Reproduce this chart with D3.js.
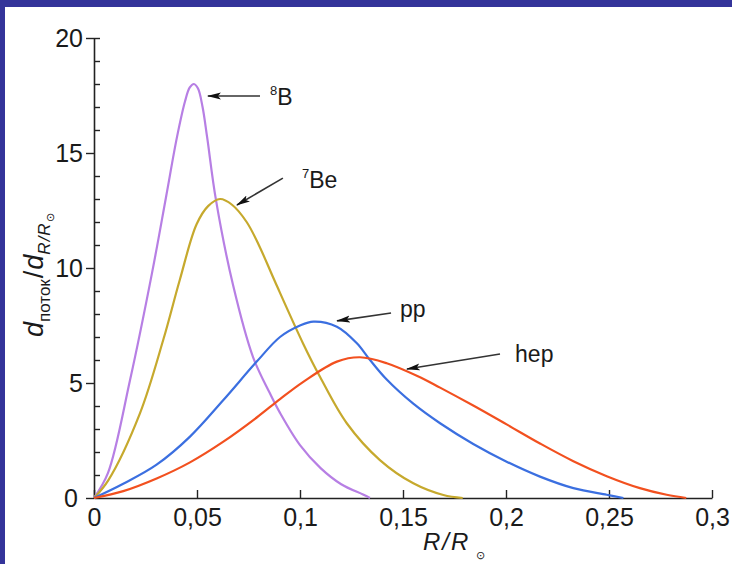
<!DOCTYPE html>
<html>
<head>
<meta charset="utf-8">
<script src="https://cdn.jsdelivr.net/npm/d3@7/dist/d3.min.js"></script>
<style>
  html, body { margin: 0; padding: 0; background: #fff; }
  svg { display: block; font-family: "Liberation Sans", Arial, Helvetica, sans-serif; }
</style>
</head>
<body>
<svg id="chart" width="732" height="564"></svg>
<script>
// values (x = R/R_sun, y = d flux / d R)
const b8X  = [0, 0.0068, 0.0175, 0.0282, 0.035, 0.0403, 0.0442, 0.0465, 0.0485, 0.0505, 0.0527, 0.0549, 0.0592, 0.0675, 0.0772, 0.0854, 0.0903, 0.1, 0.11, 0.12, 0.1306, 0.134];
const b8Y  = [0, 1.09, 5.13, 9.8, 13.1, 15.7, 17.25, 17.85, 18.0, 17.8, 17.0, 15.7, 12.96, 9.26, 6.13, 4.55, 3.7, 2.3, 1.3, 0.6, 0.15, 0];
const be7X = [0, 0.007, 0.0223, 0.0337, 0.0417, 0.0498, 0.0555, 0.0612, 0.067, 0.0741, 0.08, 0.0879, 0.1016, 0.1097, 0.1227, 0.1388, 0.155, 0.1696, 0.179];
const be7Y = [0, 0.78, 3.68, 6.9, 9.5, 11.9, 12.7, 13.0, 12.75, 12.0, 11.0, 9.4, 6.7, 5.27, 3.25, 1.65, 0.64, 0.13, 0];
const ppX  = [0, 0.0142, 0.0304, 0.0466, 0.0628, 0.079, 0.0903, 0.1, 0.1065, 0.1179, 0.1276, 0.134, 0.1421, 0.155, 0.168, 0.1841, 0.2003, 0.2165, 0.2327, 0.2489, 0.257];
const ppY  = [0, 0.62, 1.45, 2.67, 4.26, 5.93, 7.0, 7.5, 7.67, 7.45, 6.73, 6.0, 5.15, 4.1, 3.25, 2.35, 1.58, 0.93, 0.43, 0.14, 0];
const hepX = [0, 0.0142, 0.0304, 0.0466, 0.0628, 0.079, 0.0903, 0.1016, 0.1179, 0.1291, 0.1421, 0.1583, 0.168, 0.1841, 0.2003, 0.2165, 0.2327, 0.2489, 0.265, 0.278, 0.2875];
const hepY = [0, 0.3, 0.85, 1.55, 2.45, 3.5, 4.3, 5.05, 5.93, 6.12, 5.86, 5.25, 4.8, 4.02, 3.2, 2.37, 1.6, 0.95, 0.43, 0.14, 0];

const xTicks = [0, 0.05, 0.1, 0.15, 0.2, 0.25, 0.3];
const xTickLabels = ["0", "0,05", "0,1", "0,15", "0,2", "0,25", "0,3"];
const yTicks = [0, 5, 10, 15, 20];
const yMinorTicks = [1, 2, 3, 4, 6, 7, 8, 9, 11, 12, 13, 14, 16, 17, 18, 19, 20];

// annotation: label, superscript, text anchor, arrow start, arrow tip (data units)
const noteNames = ["B", "Be", "pp", "hep"];
const noteSups  = ["8", "7", "", ""];
const noteText  = [[0.0854, 17.09], [0.101, 13.48], [0.1485, 7.87], [0.2044, 5.91]];
const noteFrom  = [[0.0806, 17.48], [0.0917, 13.91], [0.1442, 8.04], [0.1971, 6.26]];
const noteTo    = [[0.0553, 17.48], [0.0694, 12.74], [0.118, 7.7], [0.1519, 5.61]];

const series = [
  { xs: b8X,  ys: b8Y,  color: "#b77fe4" },
  { xs: be7X, ys: be7Y, color: "#c6a92d" },
  { xs: ppX,  ys: ppY,  color: "#3b6fe0" },
  { xs: hepX, ys: hepY, color: "#f2501f" }
];

const svg = d3.select("#chart");
const W = 732, H = 564;

// white page with the blue frame on the top and left edges
svg.append("rect").attr("width", W).attr("height", H).attr("fill", "#fff");
svg.append("rect").attr("width", W).attr("height", 7).attr("fill", "#34349a");
svg.append("rect").attr("width", 5).attr("height", H).attr("fill", "#34349a");

const x = d3.scaleLinear().domain([0, 0.3]).range([94, 712]);
const y = d3.scaleLinear().domain([0, 20]).range([498, 38]);

const axisColor = "#222";

// x axis, ticks pointing up
const gx = svg.append("g")
  .attr("transform", `translate(0,${y(0)})`)
  .call(d3.axisBottom(x)
    .tickValues(xTicks)
    .tickFormat((d, i) => xTickLabels[i])
    .tickSizeInner(-8)
    .tickSizeOuter(0)
    .tickPadding(10));
gx.select(".domain").attr("stroke", axisColor).attr("stroke-width", 1.6);
gx.selectAll(".tick line").attr("stroke", axisColor).attr("stroke-width", 1.4);
gx.selectAll(".tick text")
  .attr("fill", "#1a1a1a")
  .attr("font-size", 25)
  .attr("font-family", "Liberation Sans, Arial, sans-serif");

// y axis, major ticks out, minor ticks in
const gy = svg.append("g")
  .attr("transform", `translate(${x(0)},0)`)
  .call(d3.axisLeft(y)
    .tickValues(yTicks)
    .tickSizeInner(8)
    .tickSizeOuter(0)
    .tickPadding(3));
gy.select(".domain").attr("stroke", axisColor).attr("stroke-width", 1.6);
gy.selectAll(".tick line").attr("stroke", axisColor).attr("stroke-width", 1.4);
gy.selectAll(".tick text")
  .attr("fill", "#1a1a1a")
  .attr("font-size", 25)
  .attr("font-family", "Liberation Sans, Arial, sans-serif");
gy.selectAll(".tick").filter(d => d === 0).select("text").attr("dx", -5);

const gyMinor = svg.append("g")
  .attr("transform", `translate(${x(0)},0)`)
  .call(d3.axisRight(y).tickValues(yMinorTicks).tickSize(6).tickFormat(""));
gyMinor.select(".domain").remove();
gyMinor.selectAll(".tick line").attr("stroke", axisColor).attr("stroke-width", 1.4);

// curves
const line = d3.line()
  .x(d => x(d[0]))
  .y(d => Math.min(y(d[1]), y(0)))
  .curve(d3.curveCatmullRom.alpha(0.5));

svg.append("g").selectAll("path")
  .data(series)
  .join("path")
  .attr("d", s => line(s.xs.map((v, i) => [v, s.ys[i]])))
  .attr("fill", "none")
  .attr("stroke", s => s.color)
  .attr("stroke-width", 2.2)
  .attr("stroke-linejoin", "round");

// arrows and labels
svg.append("defs").append("marker")
  .attr("id", "head")
  .attr("viewBox", "0 0 14 8")
  .attr("refX", 13)
  .attr("refY", 4)
  .attr("markerWidth", 14)
  .attr("markerHeight", 8)
  .attr("markerUnits", "userSpaceOnUse")
  .attr("orient", "auto")
  .append("path")
  .attr("d", "M0,0.5 L14,4 L0,7.5 L3,4 Z")
  .attr("fill", "#111");

const notes = noteNames.map((n, i) => ({ name: n, sup: noteSups[i], at: noteText[i], from: noteFrom[i], to: noteTo[i] }));

svg.append("g").selectAll("line")
  .data(notes)
  .join("line")
  .attr("x1", d => x(d.from[0]))
  .attr("y1", d => y(d.from[1]))
  .attr("x2", d => x(d.to[0]))
  .attr("y2", d => y(d.to[1]))
  .attr("stroke", "#333")
  .attr("stroke-width", 1.6)
  .attr("marker-end", "url(#head)");

const labels = svg.append("g").selectAll("text")
  .data(notes)
  .join("text")
  .attr("x", d => x(d.at[0]))
  .attr("y", d => y(d.at[1]))
  .attr("fill", "#1a1a1a")
  .attr("font-size", 23);
labels.each(function(d) {
  const t = d3.select(this);
  if (d.sup) {
    t.append("tspan").attr("font-size", 13).attr("dy", -10).text(d.sup);
    t.append("tspan").attr("dy", 10).text(d.name);
  } else {
    t.append("tspan").text(d.name);
  }
});

// x title R/R_sun
svg.append("text")
  .attr("x", 423)
  .attr("y", 550)
  .attr("fill", "#1a1a1a")
  .attr("font-size", 24)
  .attr("font-style", "italic")
  .attr("letter-spacing", 2)
  .text("R/R");
svg.append("text")
  .attr("x", 476)
  .attr("y", 559)
  .attr("fill", "#1a1a1a")
  .attr("font-size", 11)
  .text("\u2299");

// y title d_поток / d_R/R_sun
const yt = svg.append("text")
  .attr("transform", "translate(43,337) rotate(-90)")
  .attr("fill", "#1a1a1a")
  .attr("font-size", 27);
yt.append("tspan").attr("font-style", "italic").text("d");
yt.append("tspan").attr("font-size", 17).attr("dy", 7).text("поток");
yt.append("tspan").attr("dy", -7).attr("dx", 1).text("/");
yt.append("tspan").attr("font-style", "italic").attr("dx", 1).text("d");
yt.append("tspan").attr("font-size", 17).attr("font-style", "italic").attr("dy", 7).attr("letter-spacing", 1).text("R/R");
yt.append("tspan").attr("font-size", 11).attr("dy", 4).text("\u2299");
</script>
</body>
</html>
